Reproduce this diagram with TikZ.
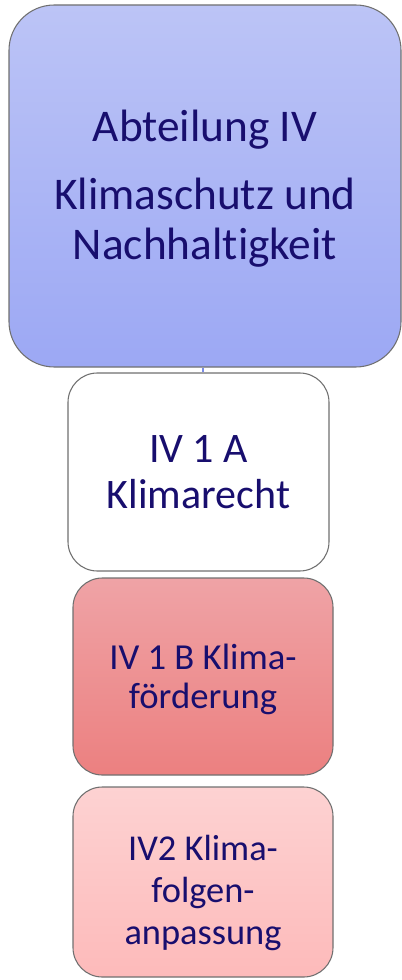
\documentclass[tikz,border=0pt]{standalone}
\usepackage{fontspec}
\setmainfont{Carlito}[Ligatures=NoCommon]
\definecolor{txt}{RGB}{24,14,110}
\definecolor{edge}{RGB}{112,112,112}
\definecolor{bluetop}{RGB}{188,196,246}
\definecolor{bluebot}{RGB}{156,168,244}
\definecolor{redtop}{RGB}{239,163,166}
\definecolor{redbot}{RGB}{236,128,128}
\definecolor{pinktop}{RGB}{253,210,210}
\definecolor{pinkbot}{RGB}{253,186,186}
\definecolor{conn}{RGB}{122,140,232}
\begin{document}
\begin{tikzpicture}[x=0.75pt,y=-0.75pt,
  box/.style={draw=edge, line width=0.8pt, align=center, text=txt, inner sep=0pt},
  boxtext/.style={text=txt, align=center, inner sep=0pt},
]
\useasboundingbox (0,0) rectangle (402,980);
\node[box, minimum width=392*0.75pt, minimum height=362*0.75pt, rounded corners=34pt,
  top color=bluetop, bottom color=bluebot,
  label={[boxtext, font=\fontsize{34}{37.5}\selectfont, yshift=-2pt]center:{Abteilung IV\\[13.5pt]Klimaschutz und\\Nachhaltigkeit}}] (top) at (205,186) {};
\node[box, minimum width=261*0.75pt, minimum height=198*0.75pt, rounded corners=22pt,
  fill=white,
  label={[boxtext, font=\fontsize{31.5}{35}\selectfont, yshift=0pt]center:{IV 1 A\\Klimarecht}}] (a) at (198.5,472) {};
\node[box, minimum width=260*0.75pt, minimum height=197*0.75pt, rounded corners=22pt,
  top color=redtop, bottom color=redbot,
  label={[boxtext, font=\fontsize{27.5}{29.3}\selectfont, yshift=-2pt]center:{IV 1 B Klima-\\förderung}}] (b) at (203,676.5) {};
\node[box, minimum width=260*0.75pt, minimum height=190*0.75pt, rounded corners=22pt,
  top color=pinktop, bottom color=pinkbot,
  label={[boxtext, font=\fontsize{27.3}{31.5}\selectfont, yshift=-8pt]center:{IV2 Klima-\\folgen-\\anpassung}}] (c) at (203,882) {};
\draw[conn, line width=2.2pt] (top.south -| 203,0) -- (a.north -| 203,0);
\end{tikzpicture}
\end{document}
